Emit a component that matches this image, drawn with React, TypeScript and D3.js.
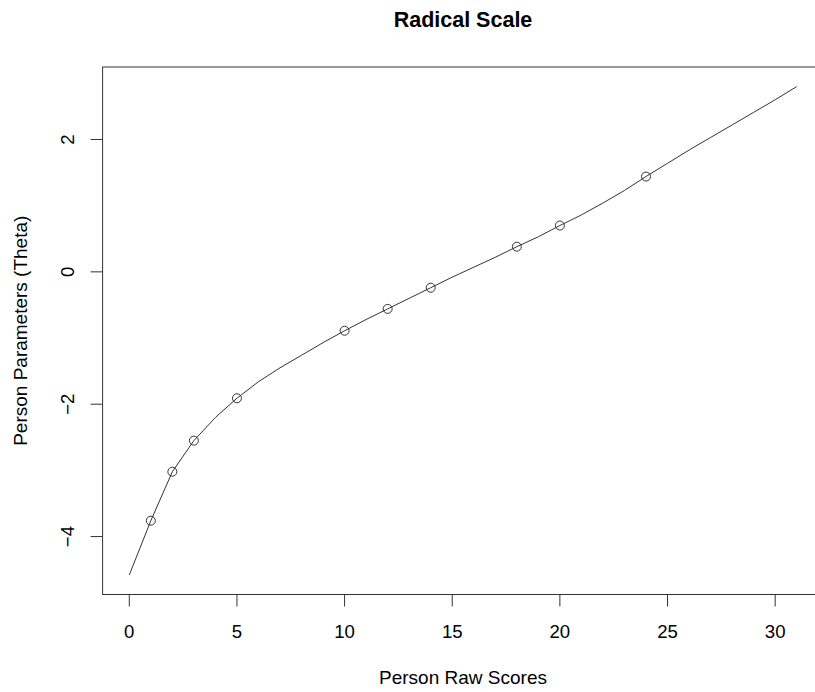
import React, { useEffect, useRef } from "react";
import * as d3 from "d3";

const rawScores = [
  0, 1, 2, 3, 4, 5, 6, 7, 8, 9, 10, 11, 12, 13, 14, 15, 16, 17, 18, 19, 20, 21,
  22, 23, 24, 25, 26, 27, 28, 29, 30, 31,
];
const theta = [
  -4.58, -3.76, -3.02, -2.55, -2.2, -1.91, -1.66, -1.45, -1.26, -1.07, -0.89,
  -0.72, -0.56, -0.4, -0.24, -0.08, 0.07, 0.22, 0.38, 0.53, 0.7, 0.86, 1.04,
  1.23, 1.44, 1.64, 1.84, 2.03, 2.22, 2.41, 2.6, 2.8,
];
// scores that were actually observed (drawn as circles)
const observedScores = [1, 2, 3, 5, 10, 12, 14, 18, 20, 24];
const xTicks = [0, 5, 10, 15, 20, 25, 30];
const yTicks = [-4, -2, 0, 2];

const width = 815;
const height = 692;
const font = "'Liberation Sans', Arial, Helvetica, sans-serif";

export default function App() {
  const ref = useRef<SVGSVGElement>(null);

  useEffect(() => {
    document.body.style.margin = "0";
    const svg = d3.select(ref.current);
    svg.selectAll("*").remove();

    const left = 102.6;
    const right = 823.4;
    const top = 67;
    const bottom = 594.5;

    const xPad = (31 - 0) * 0.04;
    const yMin = d3.min(theta)!;
    const yMax = d3.max(theta)!;
    const yPad = (yMax - yMin) * 0.04;

    const x = d3.scaleLinear().domain([0 - xPad, 31 + xPad]).range([left, right]);
    const y = d3.scaleLinear().domain([yMin - yPad, yMax + yPad]).range([bottom, top]);

    const ink = "#333";

    // box
    svg
      .append("rect")
      .attr("x", left)
      .attr("y", top)
      .attr("width", right - left)
      .attr("height", bottom - top)
      .attr("fill", "none")
      .attr("stroke", ink)
      .attr("stroke-width", 1);

    const data = rawScores.map((s, i) => ({ s, t: theta[i] }));

    const line = d3
      .line<{ s: number; t: number }>()
      .x((d) => x(d.s))
      .y((d) => y(d.t));

    svg
      .append("path")
      .datum(data)
      .attr("d", line)
      .attr("fill", "none")
      .attr("stroke", ink)
      .attr("stroke-width", 1);

    svg
      .selectAll("circle.pt")
      .data(data.filter((d) => observedScores.includes(d.s)))
      .enter()
      .append("circle")
      .attr("class", "pt")
      .attr("cx", (d) => x(d.s))
      .attr("cy", (d) => y(d.t))
      .attr("r", 4.5)
      .attr("fill", "none")
      .attr("stroke", ink)
      .attr("stroke-width", 1);

    // x axis
    const gx = svg.append("g");
    gx.append("line")
      .attr("x1", x(xTicks[0]))
      .attr("x2", x(xTicks[xTicks.length - 1]))
      .attr("y1", bottom)
      .attr("y2", bottom)
      .attr("stroke", ink);
    xTicks.forEach((t) => {
      gx.append("line")
        .attr("x1", x(t))
        .attr("x2", x(t))
        .attr("y1", bottom)
        .attr("y2", bottom + 12)
        .attr("stroke", ink);
      gx.append("text")
        .attr("x", x(t))
        .attr("y", 637.5)
        .attr("text-anchor", "middle")
        .attr("font-family", font)
        .attr("font-size", 18.6)
        .attr("fill", "#000")
        .text(t);
    });

    // y axis
    const gy = svg.append("g");
    yTicks.forEach((t) => {
      gy.append("line")
        .attr("x1", left - 12)
        .attr("x2", left)
        .attr("y1", y(t))
        .attr("y2", y(t))
        .attr("stroke", ink);
      gy.append("text")
        .attr("transform", `translate(73.5,${y(t)}) rotate(-90)`)
        .attr("text-anchor", "middle")
        .attr("font-family", font)
        .attr("font-size", 18.6)
        .attr("fill", "#000")
        .text(t < 0 ? `\u2212${Math.abs(t)}` : t);
    });

    const mid = (left + right) / 2;
    svg
      .append("text")
      .attr("x", mid)
      .attr("y", 27.3)
      .attr("text-anchor", "middle")
      .attr("font-family", font)
      .attr("font-size", 21.5)
      .attr("font-weight", "bold")
      .text("Radical Scale");

    svg
      .append("text")
      .attr("x", mid)
      .attr("y", 683.5)
      .attr("text-anchor", "middle")
      .attr("font-family", font)
      .attr("font-size", 19)
      .text("Person Raw Scores");

    svg
      .append("text")
      .attr("transform", `translate(27,${(top + bottom) / 2}) rotate(-90)`)
      .attr("text-anchor", "middle")
      .attr("font-family", font)
      .attr("font-size", 19)
      .text("Person Parameters (Theta)");
  }, []);

  return (
    <svg
      ref={ref}
      width={width}
      height={height}
      style={{ display: "block", background: "#fff" }}
    />
  );
}
